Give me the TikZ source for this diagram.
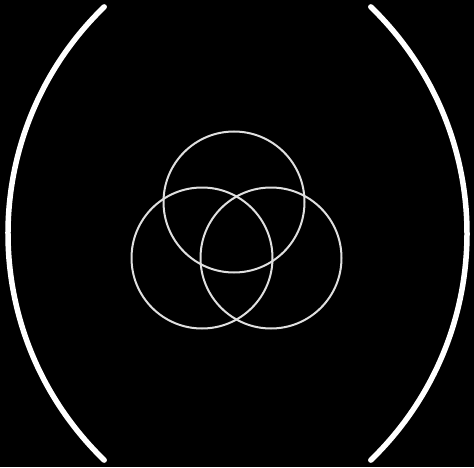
\documentclass[tikz,border=0pt]{standalone}
\begin{document}
\begin{tikzpicture}[x=1pt,y=1pt,
  ring/.style={draw=white!88!black, line width=2pt, circle, minimum size=141pt, inner sep=0pt},
  bigarc/.style={draw=white, line width=5.5pt, line cap=round}]
\fill[black] (0,0) rectangle (474,467);
\useasboundingbox (0,0) rectangle (474,467);
\node[ring] (top) at (234,265) {};
\node[ring] (left) at (202,209) {};
\node[ring] (right) at (271,209) {};
\draw[bigarc] ([shift={(134:315)}]323,233.5) arc[start angle=134, end angle=226, radius=315];
\draw[bigarc] ([shift={(-46:315)}]152,233.5) arc[start angle=-46, end angle=46, radius=315];
\end{tikzpicture}
\end{document}
